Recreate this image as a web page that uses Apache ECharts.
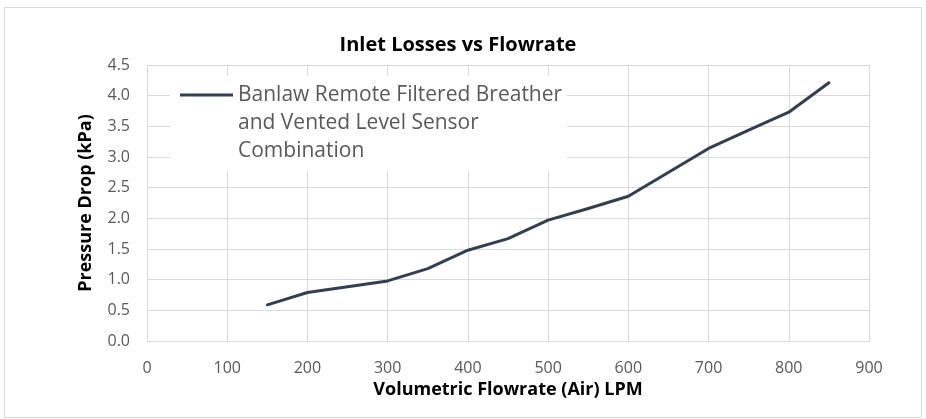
<!DOCTYPE html>
<html><head><meta charset="utf-8">
<script src="https://cdn.jsdelivr.net/npm/echarts@6/dist/echarts.min.js"></script>
<style>html,body{margin:0;padding:0;background:#fff}#c{width:926px;height:419px}</style>
</head><body><div id="c"></div>
<script>
var flowrate = [150, 200, 300, 350, 400, 450, 500, 550, 600, 700, 750, 800, 850];
var pressureDrop = [0.59, 0.79, 0.98, 1.18, 1.48, 1.67, 1.97, 2.16, 2.36, 3.14, 3.44, 3.73, 4.21];
var seriesName = 'Banlaw Remote Filtered Breather\nand Vented Level Sensor\nCombination';
var titleText = 'Inlet Losses vs Flowrate';
var xName = 'Volumetric Flowrate (Air) LPM';
var yName = 'Pressure Drop (kPa)';

var chart = echarts.init(document.getElementById('c'), null, {renderer: 'canvas'});
var font = 'Open Sans';
chart.setOption({
  animation: false,
  backgroundColor: '#fff',
  graphic: [{type: 'rect', shape: {x: 4.5, y: 7.5, width: 917, height: 410}, style: {fill: 'none', stroke: '#d9d9d9', lineWidth: 1}, z: -1}],
  title: {text: titleText, left: 453, top: 30, textAlign: 'center',
    textStyle: {fontFamily: font, fontWeight: 'bold', fontSize: 20, color: '#000'}},
  grid: {left: 147, right: 57, top: 65, bottom: 78},
  legend: {
    left: 170, top: 76, orient: 'vertical',
    padding: [5, 5, 6, 10],
    backgroundColor: '#fff',
    itemWidth: 53, itemHeight: 84,
    icon: 'path://M0 12.5 H53 V15.5 H0 Z M0 0 H0.01 V0.01 H0 Z M0 84 H0.01 V83.99 H0 Z',
    textStyle: {fontFamily: font, fontSize: 21, color: '#595959', lineHeight: 28},
    data: [seriesName]
  },
  xAxis: {
    type: 'value', min: 0, max: 900, interval: 100,
    name: xName, nameLocation: 'middle', nameGap: 31,
    nameTextStyle: {fontFamily: font, fontWeight: 'bold', fontSize: 18, color: '#000'},
    axisLine: {show: true, lineStyle: {color: '#d9d9d9', width: 1}},
    axisTick: {show: false},
    axisLabel: {fontFamily: font, fontSize: 16, color: '#595959', margin: 19},
    splitLine: {show: true, lineStyle: {color: '#d9d9d9', width: 1}}
  },
  yAxis: {
    type: 'value', min: 0, max: 4.5, interval: 0.5,
    name: yName, nameLocation: 'middle', nameGap: 52,
    nameTextStyle: {fontFamily: font, fontWeight: 'bold', fontSize: 18, color: '#000'},
    axisLine: {show: false},
    axisTick: {show: false},
    axisLabel: {fontFamily: font, fontSize: 16, color: '#595959', margin: 17,
      formatter: function (v) { return v.toFixed(1); }},
    splitLine: {show: true, lineStyle: {color: '#d9d9d9', width: 1}}
  },
  series: [{
    name: seriesName, type: 'line',
    data: flowrate.map(function (x, i) { return [x, pressureDrop[i]]; }),
    showSymbol: false, symbol: 'none',
    lineStyle: {color: '#333f50', width: 3, cap: 'round', join: 'round'},
    itemStyle: {color: '#333f50'}
  }]
});
</script></body></html>
